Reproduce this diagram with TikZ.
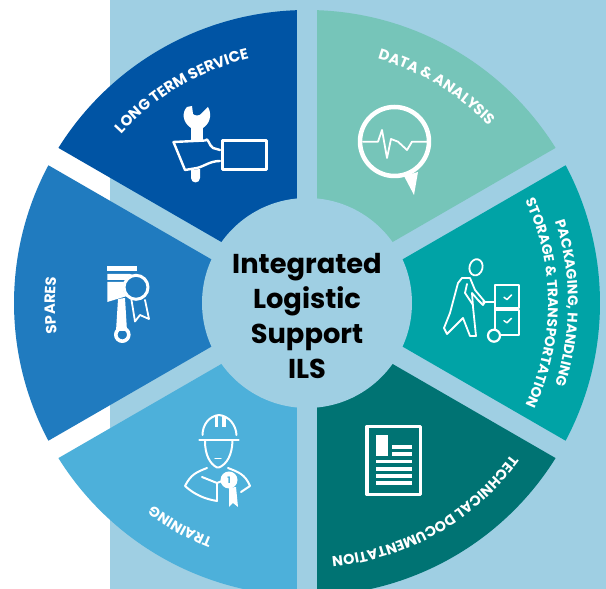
\documentclass[tikz,border=0pt]{standalone}
\usepackage{fontspec}
\setmainfont{Poppins}
\usetikzlibrary{calc,decorations.text}
\definecolor{bgblue}{HTML}{9FCFE3}
\definecolor{wlong}{HTML}{0054A4}
\definecolor{wdata}{HTML}{76C5B9}
\definecolor{wpack}{HTML}{00A3A6}
\definecolor{wtech}{HTML}{007373}
\definecolor{wtrain}{HTML}{4DB0DA}
\definecolor{wspare}{HTML}{207BBF}
\protected\def\labelfnt#1{\fontsize{#1}{#1}\selectfont\bfseries}
\newcommand{\wedgeseg}[3]{% colour, a, b (a>b)
  \pgfmathsetmacro{\wmid}{(#2+#3)/2}
  \pgfmathsetmacro{\wdist}{10/sin((#2-#3)/2)}
  \pgfmathsetmacro{\wa}{#2-1.96}
  \pgfmathsetmacro{\wb}{#3+1.96}
  \fill[#1] ($(O)+(\wmid:\wdist)$) -- ($(O)+(\wa:293)$) arc[start angle=\wa,end angle=\wb,radius=293] -- cycle;
}
\newcommand{\arctext}[4]{% radius, mid angle, font size, text
  \pgfmathsetmacro{\arcsa}{#2+50}
  \pgfmathsetmacro{\arcsb}{#2-50}
  \path[postaction={decorate},decoration={text along path,text color=white,text align=center,text={|\labelfnt{#3}|#4}}]
    ($(O)+(\arcsa:#1)$) arc[start angle=\arcsa,end angle=\arcsb,radius=#1];
}
\tikzset{
  icon/.style={draw=white,line width=#1,line join=round,line cap=round},
  icon/.default=2pt
}
\begin{document}
\begin{tikzpicture}[x=1pt,y=1pt]
\useasboundingbox (0,0) rectangle (606,589);
\begin{scope}
\clip (0,0) rectangle (606,589);
\fill[white] (0,0) rectangle (606,589);
\fill[bgblue] (110,0) rectangle (606,589);
\coordinate (O) at (307,286);
\wedgeseg{wdata}{90}{30}
\wedgeseg{wpack}{30}{-30}
\wedgeseg{wtech}{-30}{-90}
\wedgeseg{wtrain}{-90}{-150}
\wedgeseg{wspare}{-150}{-210}
\wedgeseg{wlong}{-210}{-270}
\fill[bgblue] (O) circle[radius=105];
\arctext{251}{120.5}{15}{LONG TERM SERVICE}
\arctext{254}{59}{14.8}{DATA {\&} ANALYSIS}
\arctext{261}{0}{14}{PACKAGING, HANDLING}
\arctext{241}{0}{14}{STORAGE {\&} TRANSPORTATION}
\arctext{255}{-60.5}{14.4}{TECHNICAL DOCUMENTATION}
\arctext{254}{-119.5}{14.2}{TRAINING}
\arctext{252}{180.5}{14.8}{SPARES}
\end{scope}
\node[align=center,font=\fontsize{27.3}{35}\selectfont\bfseries,text=black,inner sep=0pt] (centre) at (307,273) {Integrated\\Logistic\\Support\\ILS};
\begin{scope}[shift={(0,589)},yscale=-1]
% wrench and hand
\fill[white] (191,128) -- (203,128) -- (203,142) -- (191,142) -- cycle;
\fill[white] (187,107) .. controls (182,112) and (182,122) .. (191,128) -- (203,128) .. controls (212,122) and (211,112) .. (208,107) -- (201,114) .. controls (199,116) and (195,116) .. (193,114) -- (192,106) -- cycle;
\draw[icon=2.4pt] (173.5,142) -- (205,140.5) .. controls (208,136) and (209,146) .. (213,148) -- (220,150);
\draw[icon=2.4pt] (173.5,142) -- (185,170) -- (197,168) .. controls (205,166) and (210,161) .. (220,161);
\draw[icon=3pt,line cap=butt] (222,140.5) rectangle (266,170);
\fill[white] (191,170) -- (200,169) -- (200,178) arc[start angle=0,end angle=180,radius=4.5] -- cycle;
% graph bubble
\draw[icon=4.5pt] (394.5,141.5) circle[radius=34.5];
\fill[white] (404,176) -- (414,195) -- (418,172) -- cycle;
\draw[icon=1.8pt] (363,141.7) -- (378,141.7) -- (382,130) -- (387,158) -- (391,139) -- (398,141.7) -- (407,150) -- (412,141.7) -- (427,141.7);
% piston and medal
\fill[white] (107.3,265.7) rectangle (137.3,271);
\fill[white] (107.3,274) -- (130,274) -- (145,280) -- (107.3,280) -- cycle;
\fill[white] (107.3,282) -- (127,282) -- (127,296) -- (107.3,302) -- cycle;
\fill[white] (118,299) -- (125,298) -- (127,331) -- (116,331) -- cycle;
\draw[icon=3.6pt] (122.3,334.7) circle[radius=6.5];
\fill[wspare] (136,287.3) circle[radius=13];
\draw[icon=3pt] (136,287.3) circle[radius=12];
\draw[icon=1.8pt] (131.5,300) -- (135,321.5) -- (140,315) -- (149,319) -- (145,300);
% person with cart
\draw[icon=1.8pt,rotate around={15:(476,267.3)}] (476,267.3) ellipse[x radius=6.5,y radius=8.2];
\draw[icon=1.8pt] (458,283) -- (450,313) -- (444,328) -- (447,334) -- (463,318) -- (470,336) -- (476,336) -- (473,307) -- (472,293) -- (478,300) -- (483,305) -- (485,302) -- (475,290) -- (470,278) -- (462,278) -- cycle;
\draw[icon=1.8pt] (467,284) -- (465,293) -- (473,305);
\draw[icon=1.8pt] (483,302.3) -- (495,302.3) -- (495,336);
\draw[icon=2pt,line cap=butt] (495,285) rectangle (519,308);
\draw[icon=2pt,line cap=butt] (495,310) rectangle (519,335);
\fill[wpack] (494,335.7) circle[radius=6];
\draw[icon=2.2pt] (494,335.7) circle[radius=6];
\draw[icon=1.5pt] (504,297.3) -- (507,299.5) -- (511.5,295);
\draw[icon=1.5pt] (504,320.7) -- (507,322.8) -- (511.5,318.3);
% worker
\draw[icon=2pt] (202.5,435) .. controls (202.5,425) and (209,416) .. (219,415) .. controls (229,416) and (236,425) .. (236.5,435);
\draw[icon=2.6pt] (199.5,440) -- (238.5,440);
\fill[white] (214.5,416) rectangle (218,427);
\fill[white] (222,416) rectangle (225.5,427);
\draw[icon=2pt] (205,441) .. controls (205,455) and (210,464) .. (217,467.5) -- (219,467.5) .. controls (227,464) and (232,455) .. (232.5,441);
\draw[icon=1.2pt] (215,458.5) -- (221,458.5);
\draw[icon=2pt] (207,468) .. controls (197,472) and (191,474) .. (185,486) .. controls (195,495) and (205,499) .. (217,501);
\draw[icon=2pt] (228,468) .. controls (238,472) and (245,474) .. (250,486) -- (241,492);
\draw[icon=2pt] (202,477) -- (217,483) -- (232,477);
\draw[icon=2pt] (217,483) -- (217,501);
\fill[white] (229,480) circle[radius=8.5];
\fill[white] (229,488) -- (229,507) -- (233,503) -- (238,507) -- (236,487) -- cycle;
\node[font=\fontsize{9}{9}\selectfont\bfseries,text=wtrain,inner sep=0pt] (medal) at (229,480.5) {1};
% document
\draw[icon=3.2pt,line cap=butt] (367,426.5) rectangle (420.2,494.5);
\fill[white] (375.7,435) rectangle (387.7,456);
\foreach \yy in {447.3,454.3} \fill[white] (391.7,\yy-1.8) rectangle (411.7,\yy+1.8);
\foreach \yy in {461.7,469,476,483.3} \fill[white] (375.7,\yy-1.8) rectangle (411.7,\yy+1.8);
\end{scope}
\end{tikzpicture}
\end{document}
